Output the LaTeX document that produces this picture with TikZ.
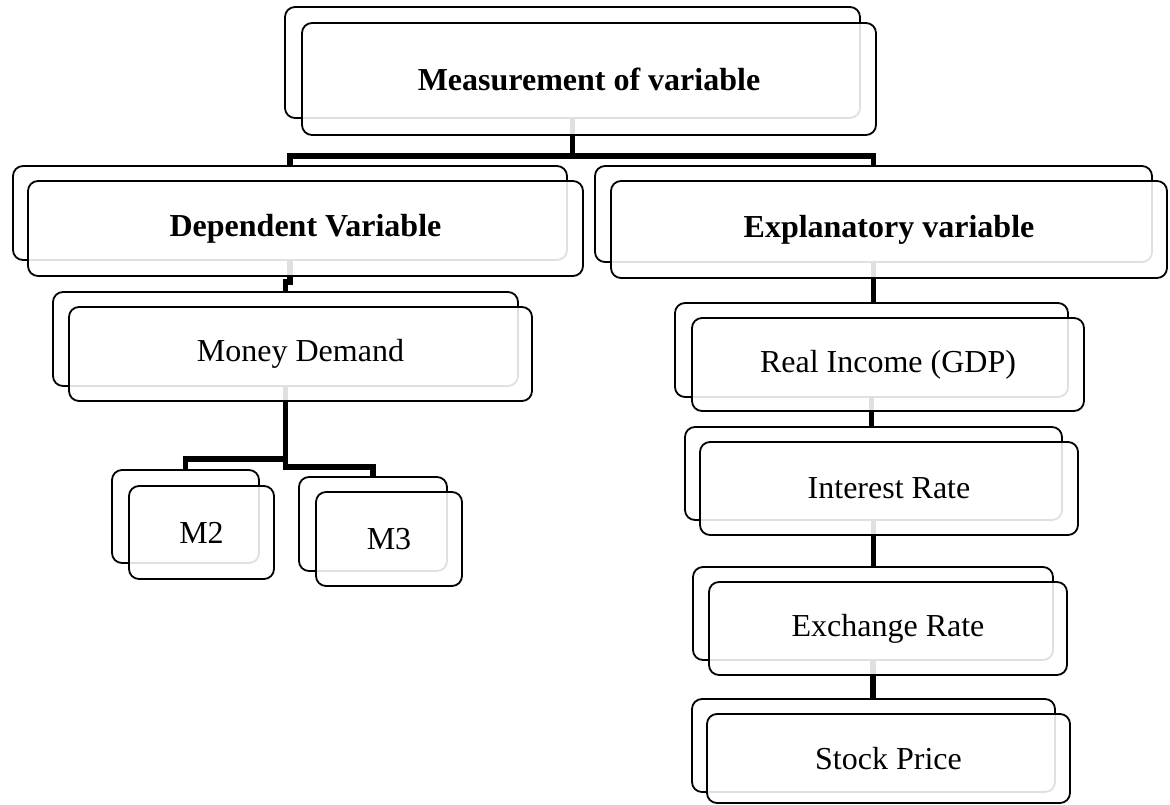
\documentclass[tikz,border=0pt]{standalone}
\usepackage{fontspec}
\setmainfont{Liberation Serif}
\begin{document}
\begin{tikzpicture}[x=1pt,y=-1pt,
  backbox/.style={draw=black, line width=1.8pt, rounded corners=10pt, fill=white, inner sep=0pt, outer sep=0pt},
  frontbox/.style={draw=black, line width=1.8pt, rounded corners=10pt, fill=white, fill opacity=0.88, text opacity=1, inner sep=0pt, outer sep=0pt, font=\fontsize{32}{38}\selectfont},
  conn/.style={draw=black, line width=5.5pt, line join=miter}]
\useasboundingbox (0,0) rectangle (1170,805);
% back boxes
\node[backbox, minimum width=575pt, minimum height=111pt] (topB) at (572.5,62.5) {};
\node[backbox, minimum width=554pt, minimum height=94pt] (depB) at (290,213) {};
\node[backbox, minimum width=557pt, minimum height=96pt] (expB) at (873.5,214) {};
\node[backbox, minimum width=465pt, minimum height=94pt] (monB) at (285.5,339) {};
\node[backbox, minimum width=147pt, minimum height=93pt] (m2B) at (185.5,516.5) {};
\node[backbox, minimum width=148pt, minimum height=94pt] (m3B) at (373,524) {};
\node[backbox, minimum width=393pt, minimum height=94pt] (realB) at (871.5,350) {};
\node[backbox, minimum width=377pt, minimum height=93pt] (intB) at (873.5,473.5) {};
\node[backbox, minimum width=360pt, minimum height=93pt] (excB) at (873,613.5) {};
\node[backbox, minimum width=363pt, minimum height=93pt] (stoB) at (873.5,745.5) {};
% connectors
\draw[conn] (depB.north) -- ++(0,-10) -| (topB.south);
\draw[conn] (expB.north) -- ++(0,-10) -| (topB.south);
\draw[conn] (depB.south) -- ++(0,22) -| (monB.north);
\draw[conn] (m2B.north) -- ++(0,-11) -| (monB.south);
\draw[conn] (m3B.north) -- ++(0,-10) -| (monB.south);
\draw[conn] (expB.south) -- (expB.south |- realB.north);
\draw[conn] (realB.south) -- (realB.south |- intB.north);
\draw[conn] (intB.south) -- (intB.south |- excB.north);
\draw[conn] (excB.south) -- (excB.south |- stoB.north);
% front boxes
\node[frontbox, minimum width=574pt, minimum height=112pt] (topF) at (589,79) {\bfseries Measurement of variable};
\node[frontbox, minimum width=555pt, minimum height=95pt] (depF) at (305.5,228.5) {\bfseries Dependent Variable};
\node[frontbox, minimum width=556pt, minimum height=97pt] (expF) at (889,229.5) {\bfseries Explanatory variable};
\node[frontbox, minimum width=463pt, minimum height=94pt] (monF) at (300.5,354) {Money Demand};
\node[frontbox, minimum width=145pt, minimum height=93pt] (m2F) at (201.5,532.5) {M2};
\node[frontbox, minimum width=146pt, minimum height=94pt] (m3F) at (389,539) {M3};
\node[frontbox, minimum width=392pt, minimum height=93pt] (realF) at (888,364.5) {Real Income (GDP)};
\node[frontbox, minimum width=378pt, minimum height=93pt] (intF) at (889,488.5) {Interest Rate};
\node[frontbox, minimum width=358pt, minimum height=93pt] (excF) at (888,628.5) {Exchange Rate};
\node[frontbox, minimum width=363pt, minimum height=89pt] (stoF) at (888.5,758.5) {Stock Price};
\end{tikzpicture}
\end{document}
